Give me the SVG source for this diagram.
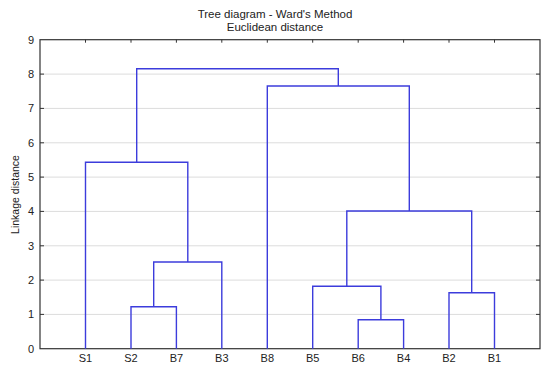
<svg xmlns="http://www.w3.org/2000/svg" width="550" height="375" viewBox="0 0 550 375">
<style>
text{font-family:"Liberation Sans",Arial,sans-serif;fill:#222}
.t{font-size:11.5px;text-anchor:middle}
.yl{font-size:11px;text-anchor:end}
.xl{font-size:11px;text-anchor:middle}
.g{stroke:#dcdcdc;stroke-width:1;fill:none}
.ax{stroke:#333;stroke-width:1.2;fill:none}
.tk{stroke:#333;stroke-width:1;fill:none}
.c{stroke:#3c3cdc;stroke-width:1.4;fill:none}
</style>
<rect width="550" height="375" fill="#fff"/>
<g id="title">
<text class="t" x="275" y="18">Tree diagram - Ward's Method</text>
<text class="t" x="275" y="30.5">Euclidean distance</text>
</g>
<g id="grid">
<path class="g" d="M40 314.4H540M40 280.1H540M40 245.8H540M40 211.4H540M40 177.1H540M40 142.8H540M40 108.4H540M40 74.1H540"/>
</g>
<g id="axes">
<rect class="ax" x="40" y="39.7" width="500" height="309"/>
<path class="tk" d="M40 314.4h4M40 280.1h4M40 245.8h4M40 211.4h4M40 177.1h4M40 142.8h4M40 108.4h4M40 74.1h4M540 314.4h-4M540 280.1h-4M540 245.8h-4M540 211.4h-4M540 177.1h-4M540 142.8h-4M540 108.4h-4M540 74.1h-4M85.5 39.7v3M131 39.7v3M176.4 39.7v3M221.8 39.7v3M267.3 39.7v3M312.7 39.7v3M358.2 39.7v3M403.6 39.7v3M449 39.7v3M494.5 39.7v3"/>
</g>
<g id="yticks">
<text class="yl" x="34" y="352.5">0</text>
<text class="yl" x="34" y="318.2">1</text>
<text class="yl" x="34" y="283.9">2</text>
<text class="yl" x="34" y="249.6">3</text>
<text class="yl" x="34" y="215.2">4</text>
<text class="yl" x="34" y="180.9">5</text>
<text class="yl" x="34" y="146.6">6</text>
<text class="yl" x="34" y="112.2">7</text>
<text class="yl" x="34" y="77.9">8</text>
<text class="yl" x="34" y="43.5">9</text>
</g>
<text id="ylabel" font-size="10.5" text-anchor="middle" transform="translate(18.5 194.5) rotate(-90)">Linkage distance</text>
<g id="leaves">
<text class="xl" x="85.5" y="362">S1</text>
<text class="xl" x="131" y="362">S2</text>
<text class="xl" x="176.4" y="362">B7</text>
<text class="xl" x="221.8" y="362">B3</text>
<text class="xl" x="267.3" y="362">B8</text>
<text class="xl" x="312.7" y="362">B5</text>
<text class="xl" x="358.2" y="362">B6</text>
<text class="xl" x="403.6" y="362">B4</text>
<text class="xl" x="449" y="362">B2</text>
<text class="xl" x="494.5" y="362">B1</text>
</g>
<g id="connectors">
<path class="c" d="M131 348.7V306.7H176.4V348.7"/>
<path class="c" d="M153.7 306.7V262H221.8V348.7"/>
<path class="c" d="M85.5 348.7V162.3H187.8V262"/>
<path class="c" d="M358.2 348.7V319.7H403.6V348.7"/>
<path class="c" d="M312.7 348.7V286.3H380.9V319.7"/>
<path class="c" d="M449 348.7V292.7H494.5V348.7"/>
<path class="c" d="M346.8 286.3V211H471.7V292.7"/>
<path class="c" d="M267.3 348.7V86H409.3V211"/>
<path class="c" d="M136.7 162.3V68.7H338.3V86"/>
</g>
</svg>
